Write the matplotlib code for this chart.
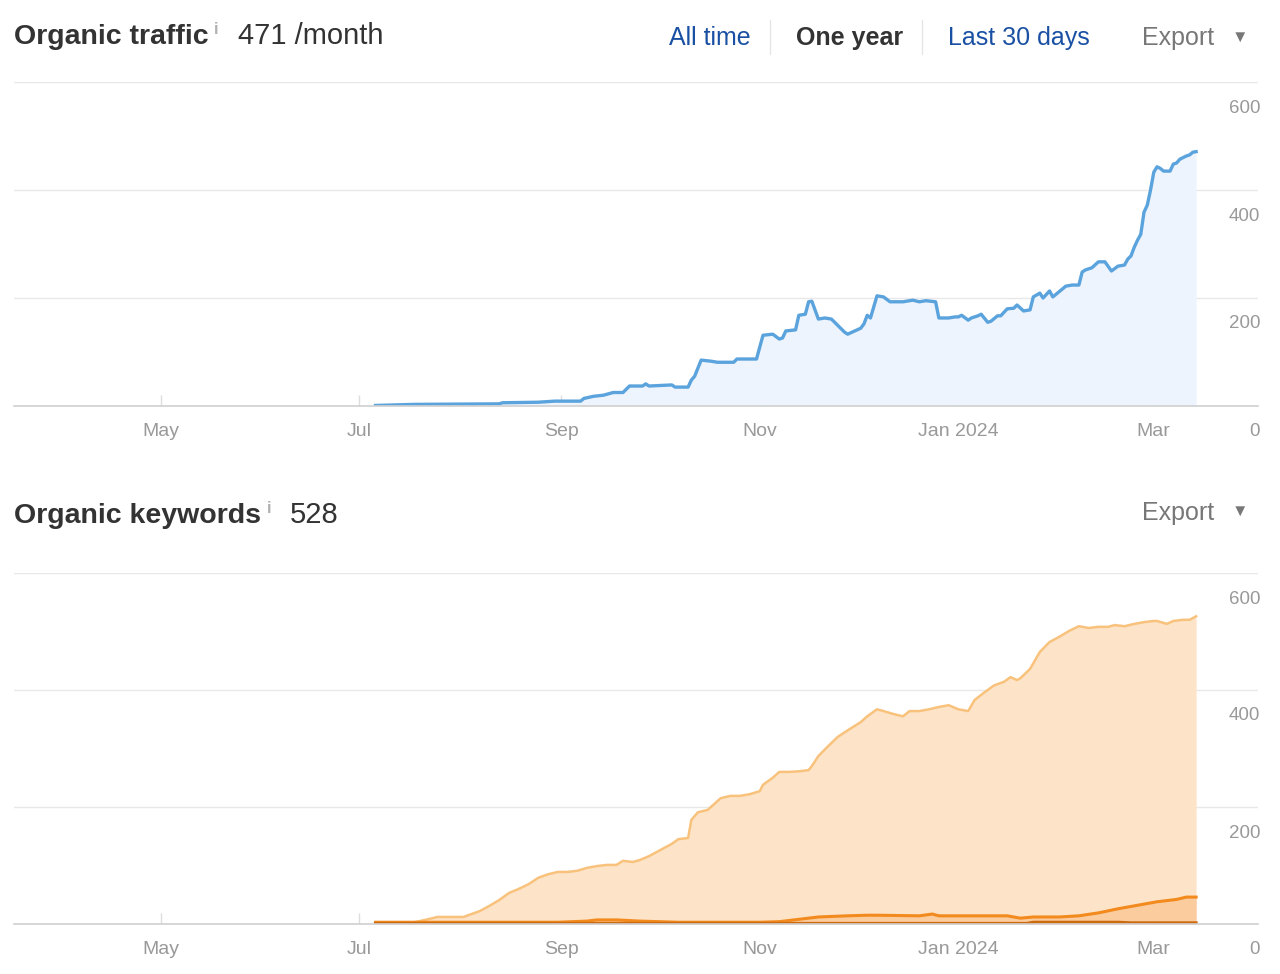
import matplotlib
matplotlib.use('Agg')
import matplotlib.pyplot as plt
import matplotlib.transforms as mtransforms
from matplotlib.lines import Line2D
import pandas as pd

plt.rcParams['font.family'] = ['Liberation Sans', 'DejaVu Sans']

# organic traffic (visits / month)
traffic_dates = [
    '2023-07-06', '2023-07-18', '2023-08-13', '2023-08-14', '2023-08-25', '2023-08-30',
    '2023-09-07', '2023-09-08', '2023-09-11', '2023-09-14', '2023-09-17', '2023-09-20',
    '2023-09-22', '2023-09-26', '2023-09-27', '2023-09-28', '2023-10-05', '2023-10-06',
    '2023-10-10', '2023-10-11', '2023-10-12', '2023-10-14', '2023-10-17', '2023-10-19',
    '2023-10-24', '2023-10-25', '2023-10-31', '2023-11-02', '2023-11-05', '2023-11-07',
    '2023-11-08', '2023-11-09', '2023-11-12', '2023-11-13', '2023-11-15', '2023-11-16',
    '2023-11-17', '2023-11-19', '2023-11-21', '2023-11-23', '2023-11-24', '2023-11-27',
    '2023-11-28', '2023-12-02', '2023-12-03', '2023-12-04', '2023-12-05', '2023-12-07',
    '2023-12-09', '2023-12-11', '2023-12-15', '2023-12-18', '2023-12-20', '2023-12-22',
    '2023-12-25', '2023-12-26', '2023-12-29', '2023-12-31', '2024-01-01', '2024-01-02',
    '2024-01-04', '2024-01-05', '2024-01-07', '2024-01-08', '2024-01-10', '2024-01-11',
    '2024-01-13', '2024-01-14', '2024-01-16', '2024-01-18', '2024-01-19', '2024-01-21',
    '2024-01-23', '2024-01-24', '2024-01-26', '2024-01-27', '2024-01-29', '2024-01-30',
    '2024-02-02', '2024-02-03', '2024-02-05', '2024-02-07', '2024-02-08', '2024-02-09',
    '2024-02-11', '2024-02-13', '2024-02-15', '2024-02-17', '2024-02-19', '2024-02-21',
    '2024-02-22', '2024-02-23', '2024-02-24', '2024-02-25', '2024-02-26', '2024-02-27',
    '2024-02-28', '2024-02-29', '2024-03-01', '2024-03-02', '2024-03-03', '2024-03-04',
    '2024-03-06', '2024-03-07', '2024-03-08', '2024-03-09', '2024-03-11', '2024-03-12',
    '2024-03-13', '2024-03-14',
]
traffic_values = [
    1, 3, 4, 6, 7, 9,
    9, 14, 18, 20, 25, 25,
    37, 37, 41, 37, 39, 35,
    35, 48, 55, 85, 83, 81,
    81, 87, 87, 131, 133, 124,
    126, 139, 141, 168, 170, 193,
    194, 161, 163, 161, 155, 137,
    133, 144, 152, 168, 163, 204,
    202, 193, 193, 196, 193, 195,
    193, 163, 163, 165, 165, 168,
    159, 163, 167, 170, 155, 157,
    167, 167, 180, 181, 187, 176,
    178, 202, 209, 200, 213, 202,
    217, 222, 224, 224, 248, 252,
    256, 267, 267, 250, 259, 261,
    272, 278, 294, 307, 318, 359,
    372, 400, 433, 443, 440, 435,
    435, 448, 450, 457, 463, 465,
    470, 471,
]

# organic keywords: total, and the smaller position groups
kw_dates = [
    '2023-07-06', '2023-07-18', '2023-07-22', '2023-07-25', '2023-08-02', '2023-08-03',
    '2023-08-07', '2023-08-10', '2023-08-13', '2023-08-16', '2023-08-19', '2023-08-22',
    '2023-08-25', '2023-08-28', '2023-08-31', '2023-09-03', '2023-09-06', '2023-09-09',
    '2023-09-12', '2023-09-15', '2023-09-18', '2023-09-20', '2023-09-23', '2023-09-25',
    '2023-09-28', '2023-10-01', '2023-10-05', '2023-10-07', '2023-10-10', '2023-10-11',
    '2023-10-13', '2023-10-16', '2023-10-18', '2023-10-20', '2023-10-23', '2023-10-26',
    '2023-10-29', '2023-11-01', '2023-11-02', '2023-11-05', '2023-11-07', '2023-11-10',
    '2023-11-13', '2023-11-16', '2023-11-17', '2023-11-19', '2023-11-22', '2023-11-25',
    '2023-11-28', '2023-12-02', '2023-12-04', '2023-12-07', '2023-12-09', '2023-12-12',
    '2023-12-15', '2023-12-17', '2023-12-20', '2023-12-23', '2023-12-26', '2023-12-29',
    '2024-01-01', '2024-01-04', '2024-01-06', '2024-01-09', '2024-01-12', '2024-01-15',
    '2024-01-17', '2024-01-19', '2024-01-20', '2024-01-23', '2024-01-26', '2024-01-29',
    '2024-02-01', '2024-02-04', '2024-02-07', '2024-02-10', '2024-02-13', '2024-02-16',
    '2024-02-18', '2024-02-21', '2024-02-24', '2024-02-27', '2024-03-01', '2024-03-02',
    '2024-03-05', '2024-03-07', '2024-03-10', '2024-03-12', '2024-03-14',
]
kw_total = [
    1, 3, 8, 12, 12, 14,
    22, 31, 41, 53, 60, 68,
    79, 85, 89, 89, 91, 96,
    99, 101, 101, 108, 106, 109,
    116, 125, 137, 145, 147, 178,
    191, 195, 205, 215, 219, 219,
    222, 227, 238, 250, 260, 260,
    261, 263, 270, 287, 304, 320,
    331, 345, 355, 367, 364, 359,
    355, 364, 364, 367, 371, 374,
    367, 364, 383, 396, 408, 414,
    422, 417, 420, 436, 465, 482,
    491, 501, 509, 506, 508, 508,
    511, 509, 513, 516, 518, 518,
    513, 518, 520, 520, 526,
]

kw_mid_dates = [
    '2023-07-06', '2023-08-31', '2023-09-09', '2023-09-12', '2023-09-18', '2023-09-25',
    '2023-10-07', '2023-11-01', '2023-11-07', '2023-11-13', '2023-11-19', '2023-11-28',
    '2023-12-04', '2023-12-07', '2023-12-20', '2023-12-24', '2023-12-26', '2024-01-07',
    '2024-01-16', '2024-01-20', '2024-01-24', '2024-02-01', '2024-02-07', '2024-02-13',
    '2024-02-19', '2024-02-25', '2024-03-02', '2024-03-08', '2024-03-11', '2024-03-14',
]
kw_mid = [
    3, 3, 5, 7, 7, 5,
    3, 3, 4, 8, 12, 14,
    15, 15, 14, 17, 14, 14,
    14, 10, 12, 12, 14, 19,
    26, 32, 38, 42, 46, 46,
]

kw_top_dates = ['2023-07-06', '2024-01-22', '2024-01-24', '2024-02-19', '2024-02-23', '2024-03-14']
kw_top = [1, 1, 3, 3, 2, 2]

month_ticks = ['2023-05-01', '2023-07-01', '2023-09-01', '2023-11-01', '2024-01-01', '2024-03-01']
month_labels = ['May', 'Jul', 'Sep', 'Nov', 'Jan 2024', 'Mar']
y_ticks = [0, 200, 400, 600]

W, H = 1280, 974
fig = plt.figure(figsize=(W / 100, H / 100), dpi=100)


def px(x, y):
    return x / W, 1 - y / H


def style_axes(ax):
    ax.set_xlim(pd.Timestamp('2023-03-17'), pd.Timestamp('2024-04-02'))
    ax.set_ylim(0, 600)
    ax.set_yticks(y_ticks)
    ax.grid(axis='y', color='#e8e8e8', lw=1)
    ax.set_axisbelow(True)
    for s in ['top', 'left', 'right']:
        ax.spines[s].set_visible(False)
    ax.spines['bottom'].set_color('#d0d0d0')
    ax.spines['bottom'].set_linewidth(1.2)
    ax.set_xticks(pd.to_datetime(month_ticks))
    ax.set_xticklabels(month_labels)
    ax.tick_params(axis='x', direction='in', length=8, width=1, color='#dddddd',
                   pad=12, labelsize=14, labelcolor='#999999')
    ax.tick_params(axis='y', left=False, labelleft=False)
    # value labels sit under the grid lines, at the right edge
    tr = mtransforms.offset_copy(ax.get_yaxis_transform(), fig=fig, x=2, y=-26, units='dots')
    for v in y_ticks:
        ax.text(1.0, v, str(v), transform=tr, ha='right', va='center',
                fontsize=13.5, color='#999999', clip_on=False)


ax1 = fig.add_axes([14 / W, 1 - 406 / H, 1244 / W, 324 / H])
style_axes(ax1)
td = pd.to_datetime(traffic_dates)
ax1.fill_between(td, traffic_values, 0, color='#edf4fd', lw=0)
ax1.plot(td, traffic_values, color='#5ba3dd', lw=2.4, solid_joinstyle='round')

ax2 = fig.add_axes([14 / W, 1 - 924 / H, 1244 / W, 351 / H])
style_axes(ax2)
kd = pd.to_datetime(kw_dates)
md = pd.to_datetime(kw_mid_dates)
topd = pd.to_datetime(kw_top_dates)
ax2.fill_between(kd, kw_total, 0, color='#fde4c8', lw=0)
ax2.plot(kd, kw_total, color='#f9c27c', lw=1.8)
ax2.fill_between(md, kw_mid, 0, color='#fbcc9e', lw=0)
ax2.plot(md, kw_mid, color='#f28a1e', lw=2.2)
ax2.plot(topd, kw_top, color='#cc6a10', lw=2.2)

# header texts
dark = '#333333'
blue = '#1a50a3'
grey = '#777777'
fig.text(*px(14, 44), 'Organic traffic', fontsize=20.5, fontweight='bold', color=dark, va='baseline')
fig.text(*px(214, 34), 'i', fontsize=12, fontweight='bold', color='#b0b0b0', va='baseline')
fig.text(*px(238, 44), '471 /month', fontsize=21, color=dark, va='baseline')
fig.text(*px(669, 45), 'All time', fontsize=18, color=blue, va='baseline')
fig.text(*px(796, 45), 'One year', fontsize=18, fontweight='bold', color=dark, va='baseline')
fig.text(*px(948, 45), 'Last 30 days', fontsize=18, color=blue, va='baseline')
fig.text(*px(1142, 45), 'Export', fontsize=18, color=grey, va='baseline')
fig.text(*px(1240, 37), '▼', fontsize=12, color=grey, ha='center', va='center')
for sx in [770, 922]:
    fig.add_artist(Line2D([sx / W, sx / W], [1 - 20 / H, 1 - 54 / H], color='#e6e6e6', lw=1))

fig.text(*px(14, 523), 'Organic keywords', fontsize=20.5, fontweight='bold', color=dark, va='baseline')
fig.text(*px(267, 513), 'i', fontsize=12, fontweight='bold', color='#b0b0b0', va='baseline')
fig.text(*px(290, 523), '528', fontsize=21, color=dark, va='baseline')
fig.text(*px(1142, 520), 'Export', fontsize=18, color=grey, va='baseline')
fig.text(*px(1240, 511), '▼', fontsize=12, color=grey, ha='center', va='center')

fig.savefig('out.png', dpi=100, facecolor='white')
